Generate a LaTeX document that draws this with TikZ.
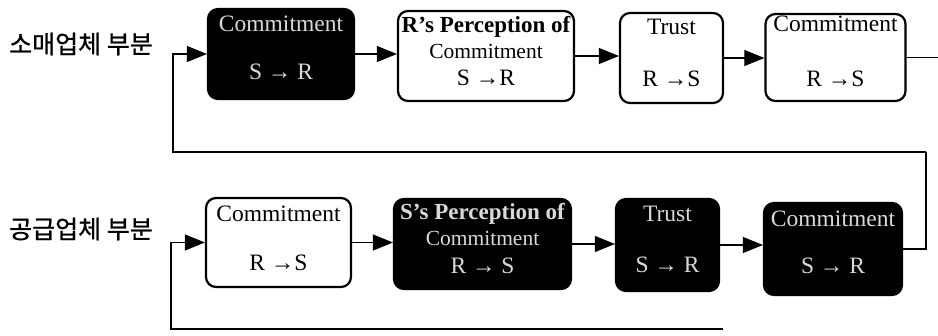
\documentclass[tikz,border=0pt]{standalone}
\usepackage{fontspec}
\setmainfont{Liberation Serif}
\newfontfamily\kr[FakeBold=0.9]{Noto Sans CJK KR}
\usetikzlibrary{arrows.meta}
\begin{document}
\begin{tikzpicture}[x=1pt,y=-1pt,
  box/.style={draw=black, line width=2.2pt, rounded corners=10pt, inner sep=0pt},
  wbox/.style={box, fill=white},
  dbox/.style={box, fill=black},
  txt/.style={anchor=base, inner sep=0pt, font=\fontsize{23.5}{26}\selectfont},
  stxt/.style={anchor=base, inner sep=0pt, font=\fontsize{21.5}{24}\selectfont},
  btxt/.style={anchor=base, inner sep=0pt, font=\bfseries\fontsize{23}{26}\selectfont},
  onwhite/.style={text=black},
  onblack/.style={text=white!85!black},
  conn/.style={line width=1.1pt},
  arr/.style={conn, -{Triangle[length=20pt,width=16pt]}},
  lab/.style={anchor=west, inner sep=0pt, font=\kr\fontsize{25}{27}\selectfont}
]
\useasboundingbox (0,0) rectangle (938,336);

% row labels
\node[lab] (l1) at (9,44) {소매업체 부분};
\node[lab] (l2) at (9,229) {공급업체 부분};

% top row boxes
\node[dbox, minimum width=146pt, minimum height=90pt] (b1) at (281,54) {};
\node[wbox, minimum width=176pt, minimum height=90pt] (b2) at (486,56) {};
\node[wbox, minimum width=103pt, minimum height=90pt] (b3) at (671.5,58) {};
\node[wbox, minimum width=140pt, minimum height=87pt] (b4) at (835.5,57.5) {};

% bottom row boxes
\node[wbox, minimum width=145pt, minimum height=89pt] (b5) at (278.5,242.5) {};
\node[dbox, minimum width=177pt, minimum height=90pt] (b6) at (482.5,244) {};
\node[dbox, minimum width=103pt, minimum height=92pt] (b7) at (667.5,245) {};
\node[dbox, minimum width=138pt, minimum height=92pt] (b8) at (833,249) {};

% texts top row
\node[txt, onblack] (t1a) at (281,32) {Commitment};
\node[txt, onblack] (t1b) at (281,80) {S → R};
\node[btxt, onwhite] (t2a) at (486,33) {R’s Perception of};
\node[stxt, onwhite] (t2b) at (486,59) {Commitment};
\node[txt, onwhite] (t2c) at (486,86) {S →R};
\node[txt, onwhite] (t3a) at (671.5,35) {Trust};
\node[txt, onwhite] (t3b) at (671.5,87) {R →S};
\node[txt, onwhite] (t4a) at (835.5,32) {Commitment};
\node[txt, onwhite] (t4b) at (835.5,87) {R →S};

% texts bottom row
\node[txt, onwhite] (t5a) at (278.5,222) {Commitment};
\node[txt, onwhite] (t5b) at (278.5,271) {R →S};
\node[btxt, onblack] (t6a) at (482.5,220) {S’s Perception of};
\node[stxt, onblack] (t6b) at (482.5,246) {Commitment};
\node[txt, onblack] (t6c) at (482.5,274) {R → S};
\node[txt, onblack] (t7a) at (667.5,222) {Trust};
\node[txt, onblack] (t7b) at (667.5,273) {S → R};
\node[txt, onblack] (t8a) at (833,227) {Commitment};
\node[txt, onblack] (t8b) at (833,274) {S → R};

% row connectors
\draw[arr] (b1.east) -- (b1.east -| b2.west);
\draw[arr] (b2.east) -- (b2.east -| b3.west);
\draw[arr] (b3.east) -- (b3.east -| b4.west);
\draw[arr] (b5.east) -- (b5.east -| b6.west);
\draw[arr] (b6.east) -- (b6.east -| b7.west);
\draw[arr] (b7.east) -- (b7.east -| b8.west);

% output of top row
\coordinate (rend) at (938,57.5);
\draw[conn] (b4.east) -- (b4.east -| rend);

% feedback loops
\coordinate (c1) at (926,152);
\coordinate (c2) at (173,152);
\draw[arr] (c1) -- (c2) |- (b1.west);
\draw[conn] (c1) -- (c1 |- b8.east) -- (b8.east);

\coordinate (c3) at (723,329);
\coordinate (c4) at (171,329);
\draw[arr] (c3) -- (c4) |- (b5.west);
\end{tikzpicture}
\end{document}
